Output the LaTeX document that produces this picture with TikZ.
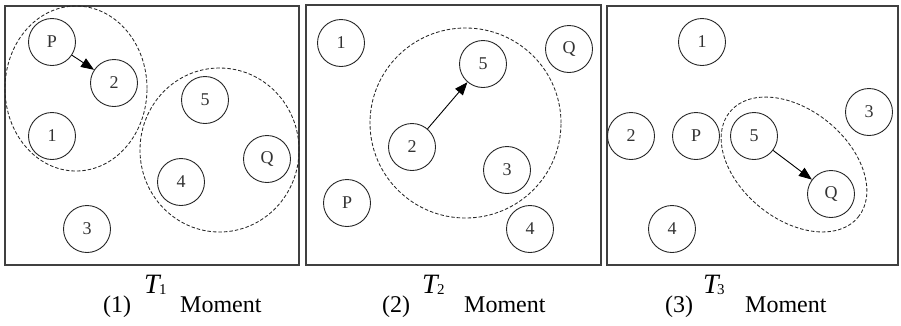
\documentclass[tikz,border=0pt]{standalone}
\usepackage{fontspec}
\setmainfont{Liberation Serif}
\usetikzlibrary{arrows.meta}
\begin{document}
\begin{tikzpicture}[x=1pt,y=-1pt,
  agent/.style={circle,draw=black!85,line width=0.9pt,minimum size=47pt,inner sep=0pt,
    font=\fontsize{18}{18}\selectfont,text=black!80},
  frame/.style={draw=black!75,line width=1.1pt},
  group/.style={draw=black!85,dash pattern=on 3.5pt off 2pt,line width=0.85pt},
  move/.style={-{Triangle[length=13pt,width=10pt]},line width=0.9pt,draw=black},
  captxt/.style={inner sep=0pt,anchor=base west,font=\fontsize{24}{24}\selectfont},
  tbig/.style={inner sep=0pt,anchor=base west,font=\fontsize{28}{28}\selectfont\itshape},
  tsub/.style={inner sep=0pt,anchor=base west,font=\fontsize{15}{15}\selectfont}
]
\useasboundingbox (0,0) rectangle (901,325);

% frames
\draw[frame] (5,6) rectangle (299,265);
\draw[frame] (306,5) rectangle (601,265);
\draw[frame] (607,6) rectangle (898,265);

% panel 1
\draw[group] (76,88.5) ellipse [x radius=71pt, y radius=82.5pt];
\draw[group] (219.5,150) ellipse [x radius=79.5pt, y radius=82pt];
\node[agent] (aP) at (52,42) {P};
\node[agent] (a2) at (114,83) {2};
\node[agent] (a1) at (52,136) {1};
\node[agent] (a5) at (205,100) {5};
\node[agent] (aQ) at (267,159) {Q};
\node[agent] (a4) at (181,182) {4};
\node[agent] (a3) at (87,229) {3};
\draw[move] (aP) -- (a2);

% panel 2
\draw[group] (465.5,123) ellipse [x radius=95.5pt, y radius=95pt];
\node[agent] (b1) at (341,43) {1};
\node[agent] (bQ) at (569,49) {Q};
\node[agent] (b5) at (483,64) {5};
\node[agent] (b2) at (412,147) {2};
\node[agent] (b3) at (507,170) {3};
\node[agent] (bP) at (347,203) {P};
\node[agent] (b4) at (530,229) {4};
\draw[move] (b2) -- (b5);

% panel 3
\draw[group, rotate around={-39.4:(794,164.5)}] (794,164.5) ellipse [x radius=83pt, y radius=54.5pt];
\node[agent] (c1) at (702,42) {1};
\node[agent] (c3) at (869,112) {3};
\node[agent] (c2) at (631,136) {2};
\node[agent] (cP) at (696,136) {P};
\node[agent] (c5) at (754,136) {5};
\node[agent] (cQ) at (831,194) {Q};
\node[agent] (c4) at (672,229) {4};
\draw[move] (c5) -- (cQ);

% captions
\node[captxt] (n1) at (103,312) {(1)};
\node[tbig] (t1) at (144,293) {T};
\node[tsub] (s1) at (159,294) {1};
\node[captxt] (m1) at (180,312) {Moment};

\node[captxt] (n2) at (382,312) {(2)};
\node[tbig] (t2) at (422,293) {T};
\node[tsub] (s2) at (437,294) {2};
\node[captxt] (m2) at (464,312) {Moment};

\node[captxt] (n3) at (665,312) {(3)};
\node[tbig] (t3) at (703,293) {T};
\node[tsub] (s3) at (717,294) {3};
\node[captxt] (m3) at (745,312) {Moment};
\end{tikzpicture}
\end{document}
